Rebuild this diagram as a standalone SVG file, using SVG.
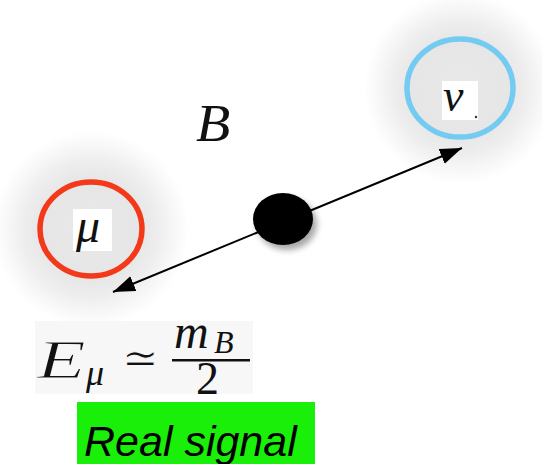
<svg xmlns="http://www.w3.org/2000/svg" width="542" height="464" viewBox="0 0 542 464">
<defs>
<radialGradient id="glow">
<stop offset="0" stop-color="#e9e9e9"/>
<stop offset="0.5" stop-color="#e6e6e6"/>
<stop offset="0.7" stop-color="#eeeeee"/>
<stop offset="0.85" stop-color="#f7f7f7"/>
<stop offset="1" stop-color="#ffffff"/>
</radialGradient>
<filter id="blur" x="-50%" y="-50%" width="200%" height="200%"><feGaussianBlur stdDeviation="3"/></filter>
<marker id="ah" markerUnits="userSpaceOnUse" markerWidth="24" markerHeight="18" refX="22" refY="8" orient="auto-start-reverse">
<path d="M0,0 L22,8 L0,16 Z" fill="#000"/>
</marker>
<style>
.ring{fill:none;stroke-width:5.5}
.math{font-family:"Liberation Serif","DejaVu Serif",serif;font-style:italic;fill:#111}
.lbl{fill:#fff}
.thin{stroke:#f7f7f7;stroke-width:1}
</style>
</defs>
<rect width="542" height="464" fill="#fff"/>
<g id="mu">
<circle cx="91" cy="229" r="98" fill="url(#glow)"/>
<ellipse class="ring" cx="91" cy="229" rx="51" ry="47" stroke="#f4391b"/>
<rect class="lbl" x="73" y="209" width="39" height="42"/>
<text class="math" x="76" y="242" font-size="48">μ</text>
</g>
<g id="nu">
<circle cx="460" cy="88" r="96" fill="url(#glow)"/>
<ellipse class="ring" cx="460" cy="88" rx="53" ry="49" stroke="#74cbf2"/>
<rect class="lbl" x="442" y="81" width="36" height="39"/>
<text class="math" x="443" y="111" font-size="46">ν</text>
<circle cx="476" cy="117" r="1.2" fill="#333"/>
</g>
<g id="B">
<text class="math" x="196" y="141" font-size="52" transform="translate(196 0) scale(1.08 1) translate(-196 0)">B</text>
</g>
<g id="connectors">
<line x1="113" y1="292" x2="462" y2="148" stroke="#000" stroke-width="2" marker-start="url(#ah)" marker-end="url(#ah)"/>
</g>
<g id="particle">
<ellipse cx="287" cy="224" rx="30" ry="26" fill="#000" opacity="0.35" filter="url(#blur)"/>
<ellipse cx="283" cy="219" rx="30" ry="26" fill="#000"/>
</g>
<g id="formula">
<rect x="35" y="321" width="218" height="73" fill="#f7f7f7"/>
<text class="math thin" x="37" y="378" font-size="55" transform="translate(37 0) scale(1.45 1) translate(-37 0)">E</text>
<text class="math" x="86" y="385" font-size="36">μ</text>
<text class="thin" x="122" y="373" font-size="44" font-family="DejaVu Sans,sans-serif" fill="#111">≃</text>
<text class="math" x="174" y="348" font-size="48">m</text>
<text class="math" x="214" y="353" font-size="32">B</text>
<rect x="172" y="359" width="78" height="2.5" fill="#111"/>
<text x="196" y="394" font-size="46" font-family="Liberation Serif,serif" fill="#111">2</text>
</g>
<g id="signal">
<rect x="77" y="402" width="238" height="62" fill="#1aef0a"/>
<text x="84" y="456" font-size="43" font-family="Liberation Sans,Arial,sans-serif" font-style="italic" fill="#000">Real signal</text>
</g>
</svg>
